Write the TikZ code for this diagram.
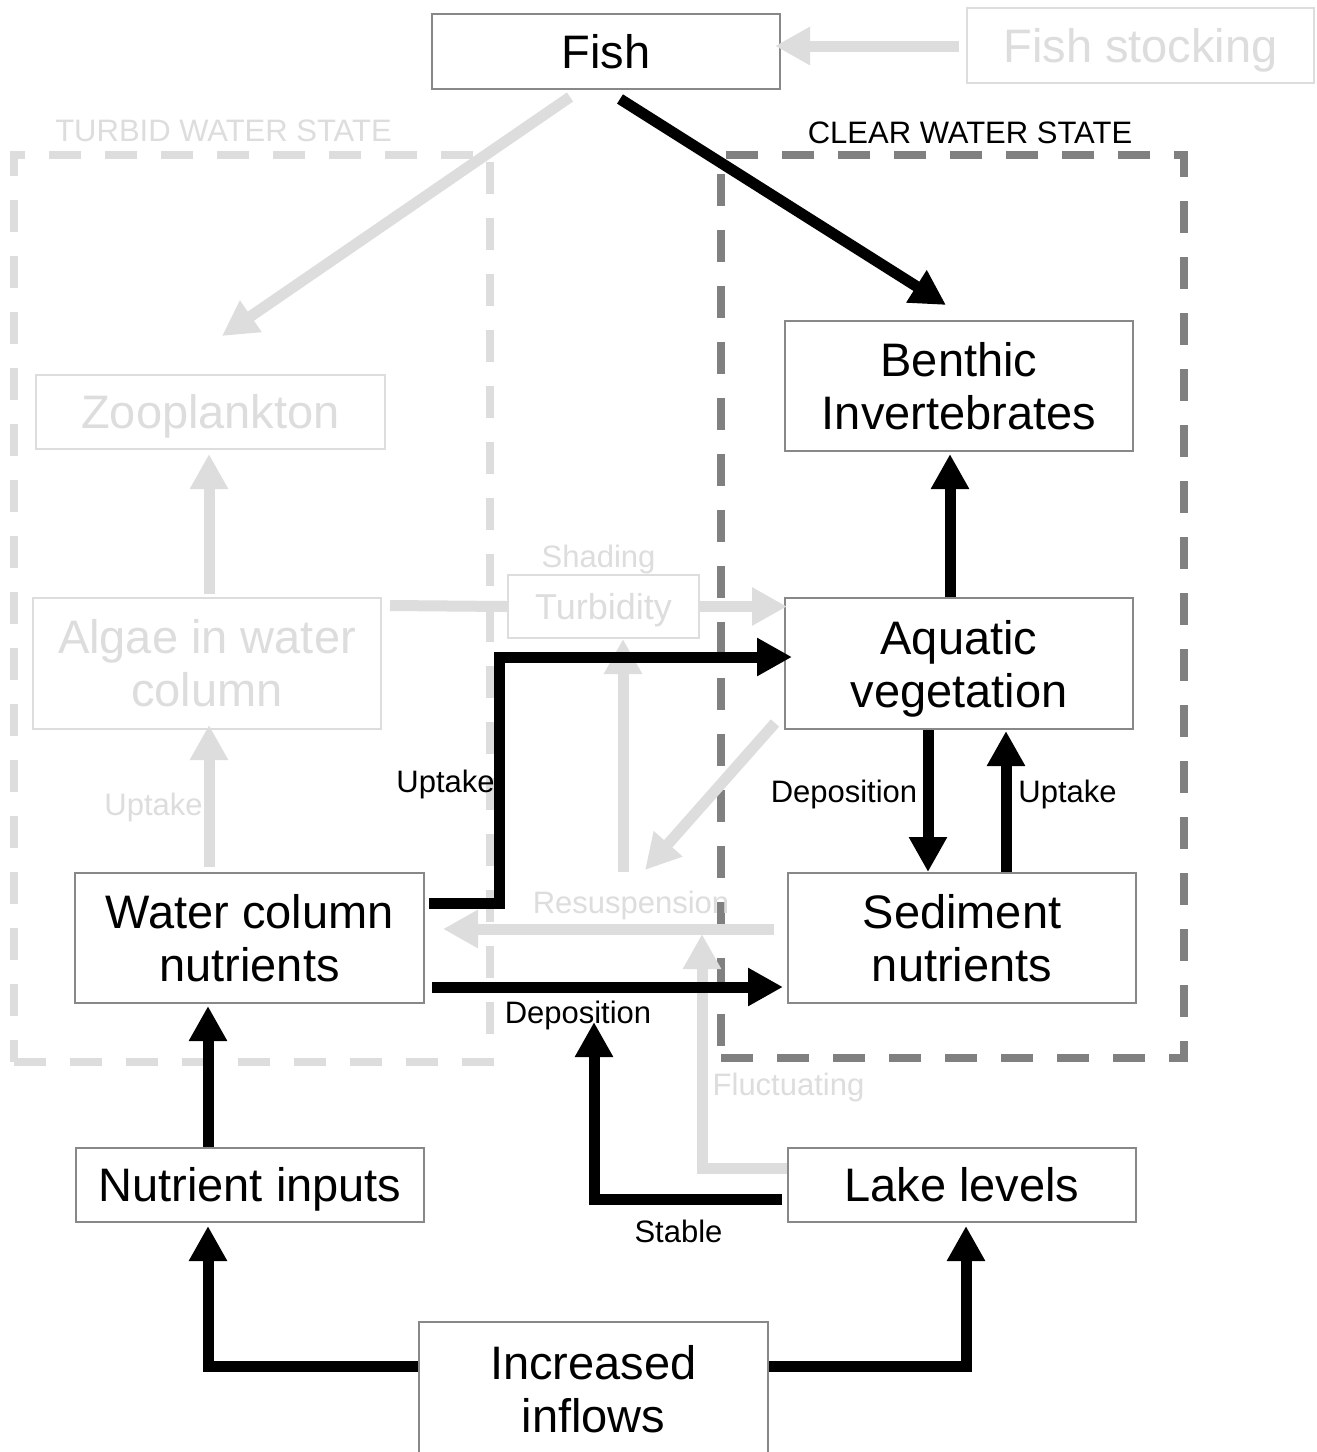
\documentclass[tikz,border=0pt]{standalone}
\usepackage{fontspec}
\setmainfont{Liberation Sans}
\usetikzlibrary{arrows.meta,calc}
\definecolor{lg}{RGB}{221,221,221}
\definecolor{dg}{RGB}{128,128,128}
\definecolor{bd}{RGB}{136,136,136}
\begin{document}
\begin{tikzpicture}[x=1pt,y=-1pt,
  box/.style={draw=bd, line width=2pt, fill=white, minimum width=348pt, inner sep=0pt, align=center, font=\fontsize{47}{53}\selectfont},
  gbox/.style={box, draw=lg, text=lg},
  flat/.style={text height=33.7pt, text depth=0pt},
  lbl/.style={anchor=base, inner sep=0pt, font=\fontsize{31}{36}\selectfont},
  glbl/.style={lbl, text=lg},
  frame/.style={draw=#1, line width=8pt, dash pattern=on 32pt off 24pt, inner sep=0pt},
  blk/.style={line width=11pt, -{Triangle[length=35pt,width=36pt]}},
  gry/.style={blk, draw=lg}
]
\useasboundingbox (0,0) rectangle (1317,1452);
\fill[white] (0,0) rectangle (1317,1452);

% state frames
\node[frame=lg, minimum width=476pt, minimum height=907pt] (turbid) at (252,608.5) {};
\node[frame=dg, minimum width=463pt, minimum height=903pt] (clear) at (952.5,606.5) {};

% boxes
\node[box, flat, minimum height=75pt] (fish) at (606,51.5) {Fish};
\node[gbox, flat, minimum width=347pt, minimum height=75pt] (stock) at (1140.5,45.5) {Fish stocking};
\node[gbox, flat, minimum width=349pt, minimum height=74pt] (zoo) at (210.5,412) {Zooplankton};
\node[box, minimum height=130pt] (benthic) at (959,386) {Benthic\\Invertebrates};
\node[gbox, minimum height=131pt] (algae) at (207,663.5) {Algae in water\\column};
\node[gbox, minimum width=191pt, minimum height=63pt, font=\fontsize{36}{43}\selectfont, text height=25.8pt, text depth=0pt] (turb) at (603.5,606.5) {Turbidity};
\node[box, text depth=0pt, minimum height=131pt] (aqua) at (959,663.5) {Aquatic\\vegetation};
\node[box, minimum width=349pt, minimum height=130pt] (wcn) at (249.5,938) {Water column\\nutrients};
\node[box, minimum height=130pt] (sed) at (962,938) {Sediment\\nutrients};
\node[box, flat, minimum height=74pt] (nutr) at (250,1185) {Nutrient inputs};
\node[box, flat, minimum height=74pt] (lake) at (962,1185) {Lake levels};
\node[box, minimum width=349pt, minimum height=134pt] (inflow) at (593.5,1389) {Increased\\inflows};

% labels
\node[glbl] (turbidlbl) at (223.5,141) {TURBID WATER STATE};
\node[lbl] (clearlbl) at (970,143) {CLEAR WATER STATE};
\node[glbl] (shading) at (598.5,567) {Shading};
\node[glbl] (uptakeA) at (153.5,815) {Uptake};
\node[lbl] (uptakeB) at (445.5,792) {Uptake};
\node[glbl] (resus) at (631,913) {Resuspension};
\node[lbl] (depB) at (578,1023) {Deposition};
\node[glbl] (fluct) at (788.5,1095) {Fluctuating};
\node[lbl] (stable) at (678.5,1242) {Stable};
\node[lbl] (depA) at (844,802) {Deposition};
\node[lbl] (uptakeC) at (1067.5,802) {Uptake};

% grey connectors
\draw[gry] ($(stock.west)+(-7,0.5)$) -- ($(fish.east)+(-6,-5.5)$);
\draw[gry] ($(fish.south)+(-36,7)$) -- ($(zoo.north)+(11.5,-38)$);
\draw[gry] ($(algae.north)+(2,-3)$) -- ($(zoo.south)+(-1.5,4)$);
\draw[gry] ($(wcn.north)+(-40.5,-5)$) -- ($(algae.south)+(2,-5)$);
\draw[gry, -] ($(algae.north east)+(8,8.5)$) -- (turb.west);
\draw[gry] (turb.east) -- ($(turb.east -| aqua.west)+(3,0)$);
\draw[gry] ($(resus.base)+(-8,-41)$) -- ($(turb.south)+(19.5,0)$);
\draw[gry] ($(aqua.south west)+(-9,-7)$) -- ($(resus.base)+(14,-43)$);
\draw[gry] ($(sed.west)+(-13,-9)$) -- ($(wcn.east)+(18,-9)$);
\draw[gry] ($(lake.west)+(0,-17)$) -| ($(resus.base)+(71,21)$);

% black connectors
\draw[blk] ($(fish.south)+(14,9)$) -- ($(benthic.north)+(-13,-15)$);
\draw[blk] ($(aqua.north)+(-9,0)$) -- ($(benthic.south)+(-9,2)$);
\draw[blk] ($(aqua.south)+(-31,0)$) -- ($(sed.north)+(-34,0)$);
\draw[blk] ($(sed.north)+(44,0)$) -- ($(aqua.south)+(47,1)$);
\draw[blk] ($(wcn.east)+(4,-35)$) -| ($(aqua.west)+(-285,-6.5)$) -- ($(aqua.west)+(8,-6.5)$);
\draw[blk] ($(wcn.east)+(7,49)$) -- ($(sed.west)+(-4,49)$);
\draw[blk] ($(lake.west)+(-5,14)$) -| ($(depB.base)+(16,-1)$);
\draw[blk] ($(nutr.north)+(-42,0)$) -- ($(wcn.south)+(-41.5,2)$);
\draw[blk] ($(inflow.west)+(0,-23)$) -| ($(nutr.south)+(-42,3)$);
\draw[blk] ($(inflow.east)+(0,-23)$) -| ($(lake.south)+(4,3)$);
\end{tikzpicture}
\end{document}
